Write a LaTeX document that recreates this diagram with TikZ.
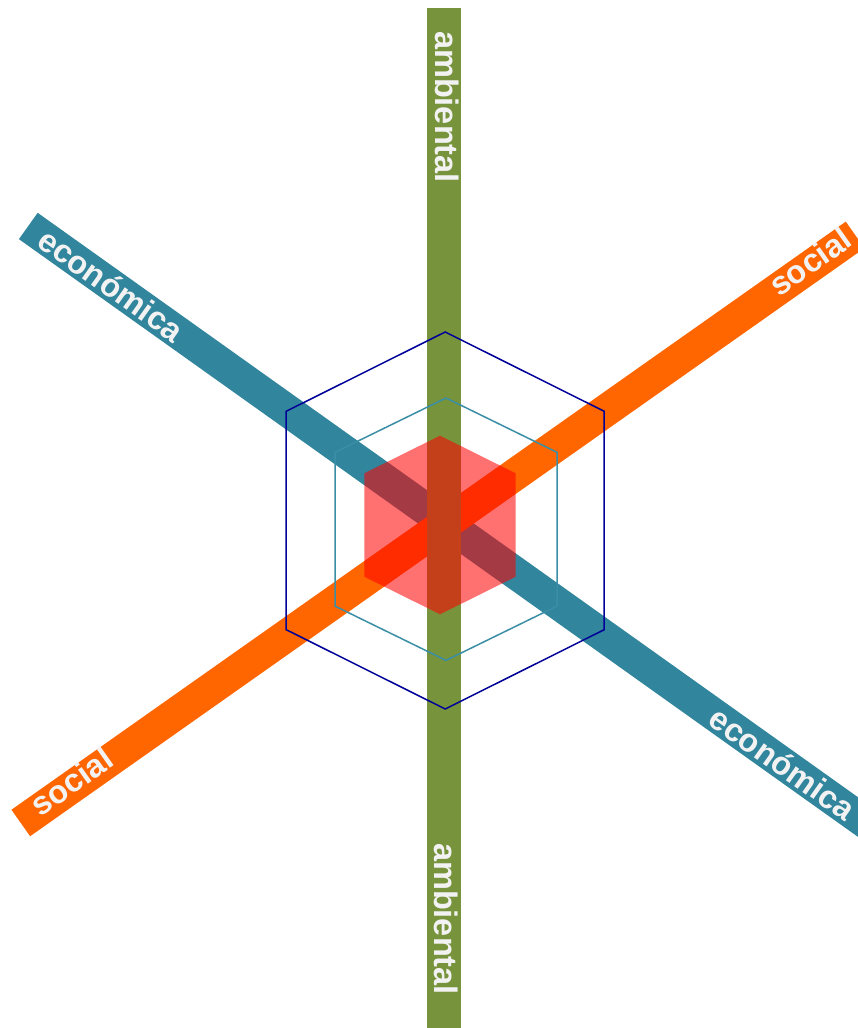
\documentclass[tikz,border=0pt]{standalone}
\usepackage{fontspec}
\setmainfont{Liberation Sans}
\definecolor{barblue}{HTML}{31859C}
\definecolor{barorange}{HTML}{FF6600}
\definecolor{bargreen}{HTML}{77933C}
\definecolor{hexnavy}{HTML}{000099}
\definecolor{hexteal}{HTML}{3A8EA5}
\definecolor{labelwhite}{HTML}{F2F2F2}
\tikzset{
  bar/.style={line width=#1, line cap=butt},
  barlabel/.style={text=labelwhite, inner sep=0pt, font=\fontsize{32.5}{32.5}\selectfont\bfseries},
  hexline/.style={line width=1.5pt, line join=miter},
}
\begin{document}
\begin{tikzpicture}[x=1pt,y=1pt]
\useasboundingbox (0,0) rectangle (858,1028);
\clip (0,0) rectangle (858,1028);
% bars
\coordinate (eA) at (28.3,802);
\coordinate (eB) at (870,202.4);
\coordinate (sA) at (20.8,205);
\coordinate (sB) at (855.1,793.1);
\draw[bar=32.3pt, barblue] (eA) -- (eB);
\draw[bar=32.4pt, barorange] (sA) -- (sB);
\fill[bargreen] (427,-12) rectangle (461,1020);
% inner filled hexagon
\fill[red, fill opacity=0.56]
  (440,592.3) -- (515.7,554.7) -- (515.7,451.3) -- (440,413.7) -- (364.3,451.3) -- (364.3,554.7) -- cycle;
% middle hexagon
\draw[hexline, hexteal]
  (446,630) -- (557,575.7) -- (557,421.9) -- (446,367.6) -- (335,421.9) -- (335,575.7) -- cycle;
% outer hexagon
\draw[hexline, hexnavy]
  (445.2,696) -- (604.2,616.7) -- (604.2,398.3) -- (445.2,319) -- (286.2,398.3) -- (286.2,616.7) -- cycle;
% labels
\node[barlabel, rotate=-90] (amb1) at (447.5,921) {ambiental};
\node[barlabel, rotate=-90] (amb2) at (446,109) {ambiental};
\node[barlabel, rotate=-35.4] (eco1) at (111.3,743) {económica};
\node[barlabel, rotate=-35.4] (eco2) at (782.5,264.7) {económica};
\node[barlabel, rotate=35.2] (soc1) at (71.7,246.3) {social};
\node[barlabel, rotate=35.2] (soc2) at (810,766.3) {social};
\end{tikzpicture}
\end{document}
